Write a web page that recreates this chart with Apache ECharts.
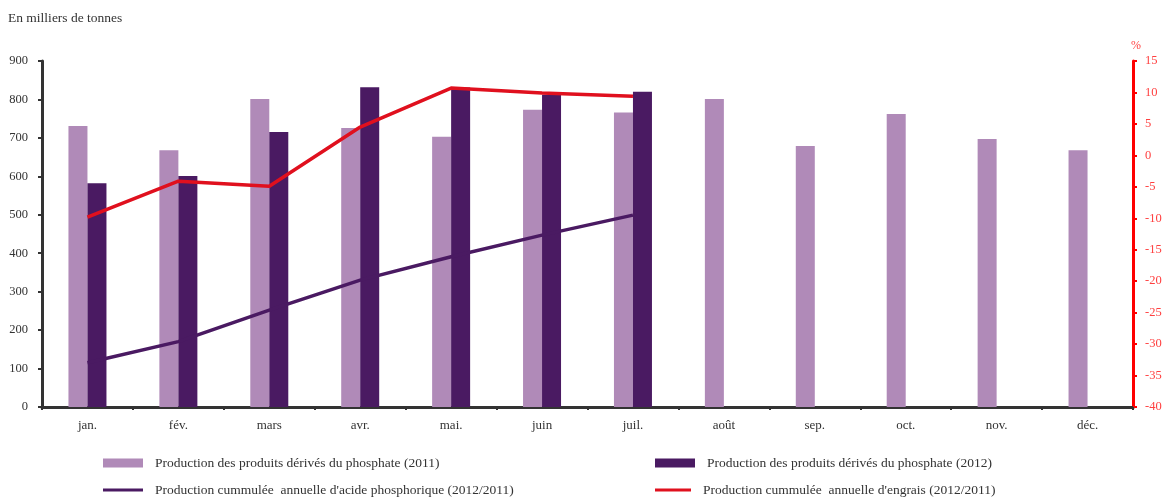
<!DOCTYPE html>
<html><head><meta charset="utf-8">
<script src="https://cdn.jsdelivr.net/npm/echarts@6/dist/echarts.min.js"></script>
<style>html,body{margin:0;padding:0;background:#fff}#c{width:1167px;height:498px}</style>
</head><body><div id="c"></div>
<script>
const months = ['jan.','fév.','mars','avr.','mai.','juin','juil.','août','sep.','oct.','nov.','déc.'];
const prod2011 = [731, 668, 801, 726, 703, 773, 766, 801, 679, 762, 697, 668];
const prod2012 = [582, 601, 715, 832, 831, 812, 820];
const acide = [115, 170, 252, 330, 391, 447, 499];
const engrais = [-9.8, -4.1, -4.9, 4.5, 10.7, 9.9, 9.4];
const leftTicks = [0, 900, 100];
const rightTicks = [-40, 15, 5];
const names = ['Production des produits dérivés du phosphate (2011)','Production des produits dérivés du phosphate (2012)','Production cummulée  annuelle d\'acide phosphorique (2012/2011)','Production cummulée  annuelle d\'engrais (2012/2011)'];
const font = '"Liberation Serif", "DejaVu Serif", serif';
const colors = ['#b08ab8', '#4a1a62', '#4a1a62', '#e0101e'];
const legendPos = [[98, 451], [650, 451], [98, 478], [650, 478]];
const legends = names.map((n, i) => ({
  left: legendPos[i][0], top: legendPos[i][1], itemWidth: i === 3 ? 36 : 40, itemHeight: i < 2 ? 9 : 3,
  data: [{name: n, icon: 'rect', itemStyle: {color: colors[i]}}],
  textStyle: {fontFamily: font, fontSize: 13.5, color: '#333', padding: [0, 0, 0, 7]}
}));
const chart = echarts.init(document.getElementById('c'));
chart.setOption({
  animation: false,
  textStyle: {fontFamily: font},
  title: [{text: 'En milliers de tonnes', left: 3, top: 6, textStyle: {fontFamily: font, fontSize: 13.5, fontWeight: 'normal', color: '#333'}},
          {text: '%', left: 1126, top: 35, textStyle: {fontFamily: font, fontSize: 12, fontWeight: 'normal', color: '#ff4040'}}],
  grid: {left: 42, right: 34, top: 61, bottom: 91},
  legend: legends,
  xAxis: {type: 'category', data: months, boundaryGap: true,
    axisLine: {lineStyle: {color: '#333', width: 3}},
    axisTick: {show: true, length: 3, lineStyle: {color: '#333', width: 2}},
    axisLabel: {fontFamily: font, fontSize: 13, color: '#333', margin: 12}},
  yAxis: [
    {type: 'value', min: leftTicks[0], max: leftTicks[1], interval: leftTicks[2], position: 'left',
     splitLine: {show: false},
     axisLine: {show: true, lineStyle: {color: '#333', width: 3}},
     axisTick: {show: true, length: 4, lineStyle: {color: '#333', width: 2}},
     axisLabel: {fontFamily: font, fontSize: 12.5, color: '#333', margin: 14}},
    {type: 'value', min: rightTicks[0], max: rightTicks[1], interval: rightTicks[2], position: 'right',
     splitLine: {show: false},
     axisLine: {show: true, lineStyle: {color: '#ff0000', width: 3}},
     axisTick: {show: true, length: 4, lineStyle: {color: '#ff0000', width: 2}},
     axisLabel: {fontFamily: font, fontSize: 12.5, color: '#ff4040', margin: 12}}
  ],
  series: [
    {name: names[0], type: 'bar', data: prod2011, barWidth: 19, barGap: '0%', itemStyle: {color: colors[0]}, z: 2},
    {name: names[1], type: 'bar', data: prod2012, barWidth: 19, barGap: '0%', itemStyle: {color: colors[1]}, z: 2},
    {name: names[2], type: 'line', data: acide, yAxisIndex: 0, symbol: 'none', lineStyle: {color: colors[2], width: 3.5}, itemStyle: {color: colors[2]}, z: 3},
    {name: names[3], type: 'line', data: engrais, yAxisIndex: 1, symbol: 'none', lineStyle: {color: colors[3], width: 3.5}, itemStyle: {color: colors[3]}, z: 4}
  ]
});
</script></body></html>
